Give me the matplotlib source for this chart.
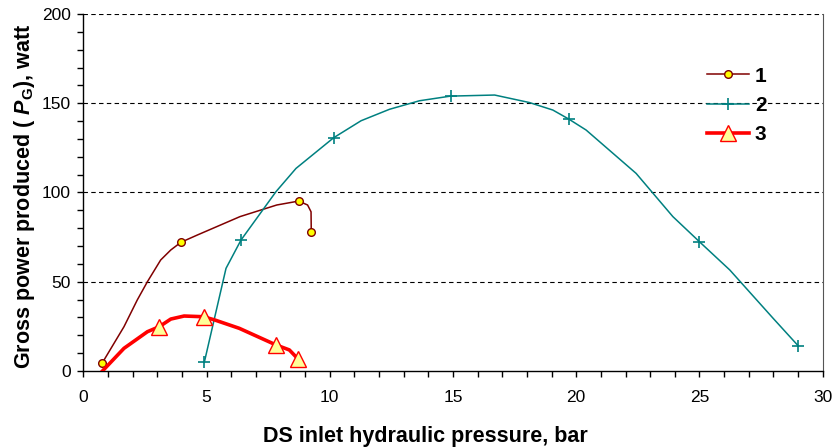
import matplotlib
matplotlib.use('Agg')
import matplotlib.pyplot as plt
from matplotlib.lines import Line2D
from matplotlib.ticker import MultipleLocator

plt.rcParams['font.family'] = ['Liberation Sans', 'DejaVu Sans']
plt.rcParams['mathtext.fontset'] = 'custom'
plt.rcParams['mathtext.bf'] = 'Liberation Sans:bold'
plt.rcParams['mathtext.bfit'] = 'Liberation Sans:italic:bold'
plt.rcParams['mathtext.rm'] = 'Liberation Sans'

# series 1
s1_x = [0.76, 1.65, 2.19, 2.6, 3.14, 3.55, 3.96, 4.63, 6.36, 7.85, 8.74, 9.1, 9.24, 9.25]
s1_y = [4.3, 24.8, 39.8, 50.0, 62.2, 67.8, 72.1, 76.2, 86.5, 93.0, 95.2, 93.0, 89.2, 77.7]
s1_marks = [0, 6, 10, 13]

# series 2
s2_x = [4.91, 5.79, 6.4, 7.82, 8.63, 10.16, 11.27, 12.42, 13.64, 14.9, 16.69,
        18.1, 19.05, 19.69, 20.4, 22.43, 23.92, 25.0, 26.23, 27.99, 29.0]
s2_y = [4.9, 57.5, 73.4, 100.5, 113.5, 130.7, 140.2, 146.6, 151.4, 154.0, 154.6,
        150.4, 146.2, 141.2, 135.0, 110.7, 86.5, 72.4, 56.6, 29.5, 14.2]
s2_marks = [0, 2, 5, 9, 13, 17, 20]

# series 3
s3_x = [0.4, 1.65, 2.6, 3.08, 3.55, 4.09, 4.88, 5.33, 6.33, 7.82, 8.36, 8.73]
s3_y = [-5.5, 12.7, 22.0, 24.8, 29.1, 30.8, 30.4, 28.6, 23.9, 14.6, 11.8, 6.5]
s3_marks = [3, 6, 9, 11]

labels = ['1', '2', '3']

fig = plt.figure(figsize=(8.34, 4.48), dpi=100)
ax = fig.add_axes([83.3 / 834, 1 - 371 / 448, 739.4 / 834, 357 / 448])

ax.plot(s1_x, s1_y, color='#800000', lw=1.1, marker='o', markevery=s1_marks,
        ms=5.5, mfc='#FFFF00', mec='#800000', mew=1.0, zorder=3)
ax.plot(s2_x, s2_y, color='#008080', lw=1.1, marker='+', markevery=s2_marks,
        ms=8, mec='#008080', mew=1.2, zorder=3)
ax.plot(s3_x, s3_y, color='#FF0000', lw=2.6, marker='^', markevery=s3_marks,
        ms=11, mfc='#FFFF99', mec='#FF0000', mew=1.0, zorder=4)

ax.set_xlim(0, 30)
ax.set_ylim(0, 200)
ax.xaxis.set_major_locator(MultipleLocator(5))
ax.xaxis.set_minor_locator(MultipleLocator(1))
ax.yaxis.set_major_locator(MultipleLocator(50))
ax.yaxis.set_minor_locator(MultipleLocator(10))
ax.tick_params(which='both', direction='out', length=4, width=1, labelsize=12.5)
ax.tick_params(axis='x', pad=10)
ax.tick_params(axis='y', pad=5)

for g in [50, 100, 150, 200]:
    ax.axhline(g, color='black', lw=0.8, ls=(0, (4, 3)), zorder=1)

ax.spines['top'].set_visible(False)
ax.spines['right'].set_color('#555555')
ax.spines['left'].set_linewidth(1.0)
ax.spines['bottom'].set_linewidth(1.0)

ax.set_xlabel('DS inlet hydraulic pressure, bar', fontsize=15.5, fontweight='bold')
ax.xaxis.set_label_coords(0.462, -0.155, transform=ax.transAxes)
ax.xaxis.label.set_va('top')
ax.set_ylabel(r'Gross power produced ( $\mathbfit{P}_{\mathbf{G}}$), watt', fontsize=15.5,
              fontweight='bold')
ax.yaxis.set_label_coords(-0.063, 0.49, transform=ax.transAxes)

handles = [
    Line2D([], [], color='#800000', lw=1.1, marker='o', ms=5.5, mfc='#FFFF00', mec='#800000'),
    Line2D([], [], color='#008080', lw=1.1, marker='+', ms=8, mec='#008080', mew=1.2),
    Line2D([], [], color='#FF0000', lw=2.6, marker='^', ms=11, mfc='#FFFF99', mec='#FF0000'),
]
leg = ax.legend(handles, labels, loc='upper left', bbox_to_anchor=(0.818, 0.905),
                frameon=False, handlelength=2.0, handletextpad=0.3, labelspacing=0.5,
                prop={'size': 15, 'weight': 'bold'})

fig.savefig('out.png', dpi=100)
